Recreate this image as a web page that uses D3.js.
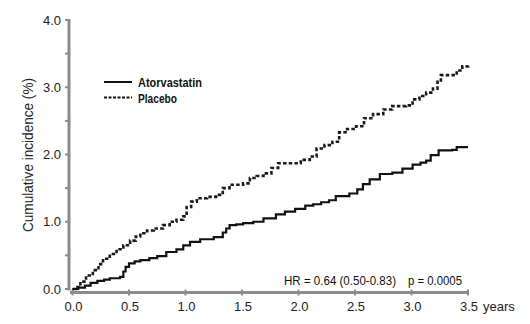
<!DOCTYPE html>
<html><head><meta charset="utf-8">
<script src="https://cdn.jsdelivr.net/npm/d3@7"></script>
<style>body{margin:0;background:#fff}svg{display:block}</style>
</head><body>
<script>
const atorvaTime = [0,0.05,0.11,0.16,0.22,0.28,0.33,0.42,0.45,0.47,0.50,0.55,0.60,0.68,0.75,0.83,0.92,0.98,1.04,1.13,1.25,1.33,1.36,1.39,1.45,1.51,1.60,1.69,1.80,1.88,1.97,2.06,2.13,2.20,2.27,2.33,2.45,2.52,2.57,2.63,2.72,2.83,2.92,3.01,3.08,3.13,3.17,3.24,3.36,3.40,3.50];
const atorvaValue = [0,0.02,0.05,0.09,0.12,0.14,0.16,0.18,0.26,0.33,0.38,0.41,0.43,0.46,0.49,0.55,0.59,0.65,0.70,0.74,0.77,0.84,0.90,0.95,0.96,0.98,1.00,1.05,1.11,1.15,1.19,1.24,1.26,1.29,1.32,1.38,1.42,1.48,1.56,1.63,1.71,1.73,1.79,1.85,1.88,1.91,1.99,2.06,2.07,2.11,2.11];
const placeboTime = [0,0.03,0.07,0.12,0.18,0.23,0.27,0.33,0.39,0.45,0.51,0.56,0.60,0.66,0.72,0.80,0.86,0.92,0.98,1.01,1.05,1.10,1.19,1.27,1.33,1.39,1.51,1.57,1.63,1.69,1.76,1.82,1.95,2.02,2.10,2.16,2.23,2.30,2.36,2.43,2.51,2.58,2.66,2.75,2.83,2.95,3.01,3.07,3.13,3.19,3.23,3.26,3.36,3.40,3.45,3.50];
const placeboValue = [0,0.03,0.11,0.20,0.28,0.37,0.45,0.52,0.59,0.65,0.72,0.78,0.83,0.87,0.90,0.95,1.00,1.03,1.08,1.22,1.30,1.35,1.37,1.40,1.50,1.55,1.57,1.65,1.68,1.72,1.80,1.87,1.87,1.92,1.97,2.09,2.14,2.19,2.33,2.38,2.42,2.54,2.60,2.67,2.72,2.73,2.82,2.87,2.92,2.98,3.08,3.18,3.18,3.25,3.31,3.34];
const xTicks = [0,0.5,1.0,1.5,2.0,2.5,3.0,3.5];
const yTicks = [0,0.5,1.0,1.5,2.0,2.5,3.0,3.5,4.0];
const yLabelTicks = [0,1,2,3,4];
const seriesNames = ["Atorvastatin","Placebo"];
const yTitle = "Cumulative incidence (%)";
const xUnit = "years";
const hrText = "HR = 0.64 (0.50-0.83)";
const pText = "p = 0.0005";

const W = 530, H = 324;
const svg = d3.select("body").append("svg").attr("width", W).attr("height", H);
const x = d3.scaleLinear().domain([0,3.5]).range([72.5,468]);
const y = d3.scaleLinear().domain([0,4]).range([289,20]);
const axisCol = "#8c8c8c";
const sans = "'Liberation Sans',Arial,sans-serif";

// Y axis
const yAxisX = 69;
const ya = svg.append("g");
ya.append("line").attr("x1",yAxisX).attr("x2",yAxisX).attr("y1",y(4)-1).attr("y2",y(0)+1.5)
  .attr("stroke",axisCol).attr("stroke-width",3);
ya.selectAll(".yt").data(yTicks).join("line")
  .attr("x1",yAxisX-4).attr("x2",yAxisX).attr("y1",d=>y(d)).attr("y2",d=>y(d))
  .attr("stroke",axisCol).attr("stroke-width",2);
ya.selectAll(".yl").data(yLabelTicks).join("text")
  .attr("x",61).attr("y",d=>y(d)+4.5).attr("text-anchor","end")
  .attr("font-family",sans).attr("font-size",13).attr("fill","#222")
  .text(d=>d3.format(".1f")(d));

// X axis
const xAxisY = 292.5;
const xa = svg.append("g");
xa.append("line").attr("x1",70).attr("x2",x(3.5)+1).attr("y1",xAxisY).attr("y2",xAxisY)
  .attr("stroke",axisCol).attr("stroke-width",3);
xa.selectAll(".xt").data(xTicks).join("line")
  .attr("x1",d=>x(d)).attr("x2",d=>x(d)).attr("y1",xAxisY-3).attr("y2",xAxisY+3)
  .attr("stroke",axisCol).attr("stroke-width",2);
xa.selectAll(".xl").data(xTicks).join("text")
  .attr("x",d=>x(d)+1).attr("y",311).attr("text-anchor","middle")
  .attr("font-family",sans).attr("font-size",13).attr("fill","#222")
  .text(d=>d3.format(".1f")(d));
xa.append("text").attr("x",483).attr("y",311).attr("font-family",sans).attr("font-size",13)
  .attr("fill","#222").text(xUnit);

// Y title (condensed)
svg.append("text").attr("transform","translate(32.5,155) rotate(-90)").attr("text-anchor","middle")
  .attr("font-family",sans).attr("font-size",15.5).attr("fill","#222")
  .attr("textLength",154).attr("lengthAdjust","spacingAndGlyphs").text(yTitle);

// Lines
const line = d3.line().x(d=>x(d[0])).y(d=>y(d[1])).curve(d3.curveStepAfter);
const atorva = atorvaTime.map((t,i)=>[t,atorvaValue[i]]);
const placebo = placeboTime.map((t,i)=>[t,placeboValue[i]]);
svg.append("path").datum(placebo).attr("d",line).attr("fill","none")
  .attr("stroke","#1a1a1a").attr("stroke-width",2.6).attr("stroke-dasharray","3.5,2.2");
svg.append("path").datum(atorva).attr("d",line).attr("fill","none")
  .attr("stroke","#111").attr("stroke-width",2.2);

// Legend
const legLen = [64,39];
const leg = svg.append("g");
leg.append("line").attr("x1",104).attr("x2",132).attr("y1",82).attr("y2",82)
  .attr("stroke","#111").attr("stroke-width",2);
leg.append("line").attr("x1",104).attr("x2",132).attr("y1",97.5).attr("y2",97.5)
  .attr("stroke","#111").attr("stroke-width",2).attr("stroke-dasharray","3,1.5");
leg.selectAll(".lt").data(seriesNames).join("text")
  .attr("x",138).attr("y",(d,i)=>87+i*15.5)
  .attr("font-family",sans).attr("font-weight","bold").attr("font-size",13.5).attr("fill","#111")
  .attr("textLength",(d,i)=>legLen[i]).attr("lengthAdjust","spacingAndGlyphs")
  .text(d=>d);

// Annotation
svg.append("text").attr("x",284).attr("y",285).attr("font-family",sans).attr("font-size",13)
  .attr("fill","#111").attr("textLength",112).attr("lengthAdjust","spacingAndGlyphs").text(hrText);
svg.append("text").attr("x",408).attr("y",285).attr("font-family",sans).attr("font-size",13)
  .attr("fill","#111").attr("textLength",54).attr("lengthAdjust","spacingAndGlyphs").text(pText);
</script>
</body></html>
